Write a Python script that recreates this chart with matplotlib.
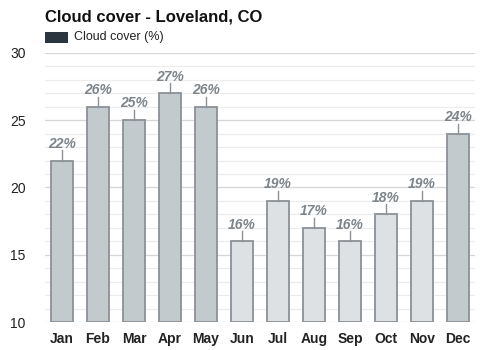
import matplotlib.pyplot as plt
import numpy as np
from matplotlib.patches import Rectangle

plt.rcParams['font.family'] = ['Liberation Sans', 'DejaVu Sans']

months = ['Jan', 'Feb', 'Mar', 'Apr', 'May', 'Jun', 'Jul', 'Aug', 'Sep', 'Oct', 'Nov', 'Dec']
cloud = [22, 26, 25, 27, 26, 16, 19, 17, 16, 18, 19, 24]
dark_months = ['Jan', 'Feb', 'Mar', 'Apr', 'May', 'Dec']

fig = plt.figure(figsize=(5, 3.5), dpi=100)
ax = fig.add_axes([0.09, 0.08, 0.86, 0.769])

x = np.arange(len(months))
colors = ['#c3cace' if m in dark_months else '#dde1e4' for m in months]
ax.bar(x, [c - 10 for c in cloud], bottom=10, width=0.61, color=colors,
       edgecolor='#8b9196', linewidth=1.3, zorder=3)

for xi, v in zip(x, cloud):
    ax.plot([xi, xi], [v, v + 0.75], color='#8b9196', lw=1, zorder=3)
    ax.text(xi, v + 0.72, f'{v}%', ha='center', va='bottom', fontsize=10,
            fontstyle='italic', fontweight='bold', color='#7d858b', zorder=4)

ax.set_xlim(-0.47, 11.47)
ax.set_ylim(10, 30)
ax.set_yticks([10, 15, 20, 25, 30])
ax.set_yticks(np.arange(10, 31, 1), minor=True)
ax.grid(axis='y', which='major', color='#d6d6d6', lw=0.9, zorder=0)
ax.grid(axis='y', which='minor', color='#ececec', lw=0.8, zorder=0)
ax.set_xticks(x)
ax.set_xticklabels(months, fontweight='bold', fontsize=10)
ax.tick_params(axis='both', which='both', length=0, colors='#222222')
ax.tick_params(axis='y', labelsize=10, pad=14)
ax.tick_params(axis='x', pad=7)
for s in ax.spines.values():
    s.set_visible(False)

fig.text(0.09, 0.95, 'Cloud cover - Loveland, CO', fontsize=12, fontweight='bold',
         ha='left', va='center', color='#111111')
fig.patches.append(Rectangle((0.09, 0.877), 0.046, 0.032, transform=fig.transFigure,
                             facecolor='#2a3540', edgecolor='none'))
fig.text(0.148, 0.893, 'Cloud cover (%)', fontsize=9, ha='left', va='center', color='#222222')

fig.savefig('out.png', dpi=100)
